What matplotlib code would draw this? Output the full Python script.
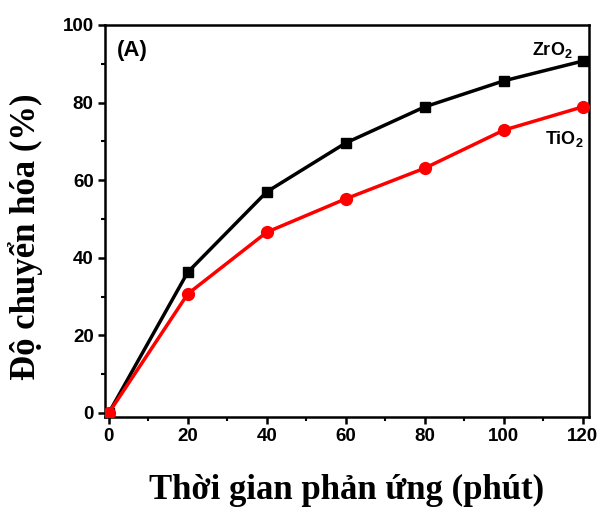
import numpy as np
import matplotlib
matplotlib.use('Agg')
from matplotlib import pyplot as plt

# reaction time (minutes)
time = [0, 20, 40, 60, 80, 100, 120]
# conversion (%)
zro2 = [0, 36.3, 57.0, 69.6, 78.9, 85.6, 90.7]
tio2 = [0, 30.7, 46.6, 55.2, 63.1, 72.9, 78.9]

plt.rcParams['mathtext.fontset'] = 'custom'
plt.rcParams['mathtext.rm'] = 'Liberation Sans:bold'
plt.rcParams['mathtext.bf'] = 'Liberation Sans:bold'

fig = plt.figure(figsize=(5.99, 5.09), dpi=100)
ax = fig.add_axes([0.175, 0.181, 0.808, 0.770])

ax.plot(time, zro2, color='black', lw=2.5, marker='s', ms=7.5, zorder=3)
ax.plot(time, tio2, color='red', lw=2.5, marker='o', ms=8.5, zorder=4)

ax.set_xlim(-1, 121.5)
ax.set_ylim(-1, 100)
ax.set_xticks(np.arange(0, 121, 20))
ax.set_yticks(np.arange(0, 101, 20))
ax.set_xticks(np.arange(10, 120, 20), minor=True)
ax.set_yticks(np.arange(10, 100, 20), minor=True)

for lab in ax.get_xticklabels() + ax.get_yticklabels():
    lab.set_fontfamily('Liberation Sans')
    lab.set_fontweight('bold')
    lab.set_fontsize(13.5)

ax.tick_params(which='major', direction='out', length=5, width=1.8, pad=3)
ax.tick_params(which='minor', direction='out', length=3, width=1.5)
for s in ax.spines.values():
    s.set_linewidth(1.8)

ax.set_xlabel('Thời gian phản ứng (phút)', fontfamily='Liberation Serif',
              fontweight='bold', fontsize=25, labelpad=21)
ax.set_ylabel('Độ chuyển hóa (%)', fontfamily='Liberation Serif',
              fontweight='bold', fontsize=25)
ax.yaxis.set_label_coords(-0.128, 0.46)

ax.text(0.025, 0.935, '(A)', transform=ax.transAxes, fontfamily='Liberation Sans',
        fontweight='bold', fontsize=16, va='center')
ax.text(0.883, 0.935, 'ZrO$_2$', transform=ax.transAxes, fontfamily='Liberation Sans',
        fontweight='bold', fontsize=13, va='center', ha='left')
ax.text(0.91, 0.71, 'TiO$_2$', transform=ax.transAxes, fontfamily='Liberation Sans',
        fontweight='bold', fontsize=13, va='center', ha='left')

fig.savefig('out.png', dpi=100)
